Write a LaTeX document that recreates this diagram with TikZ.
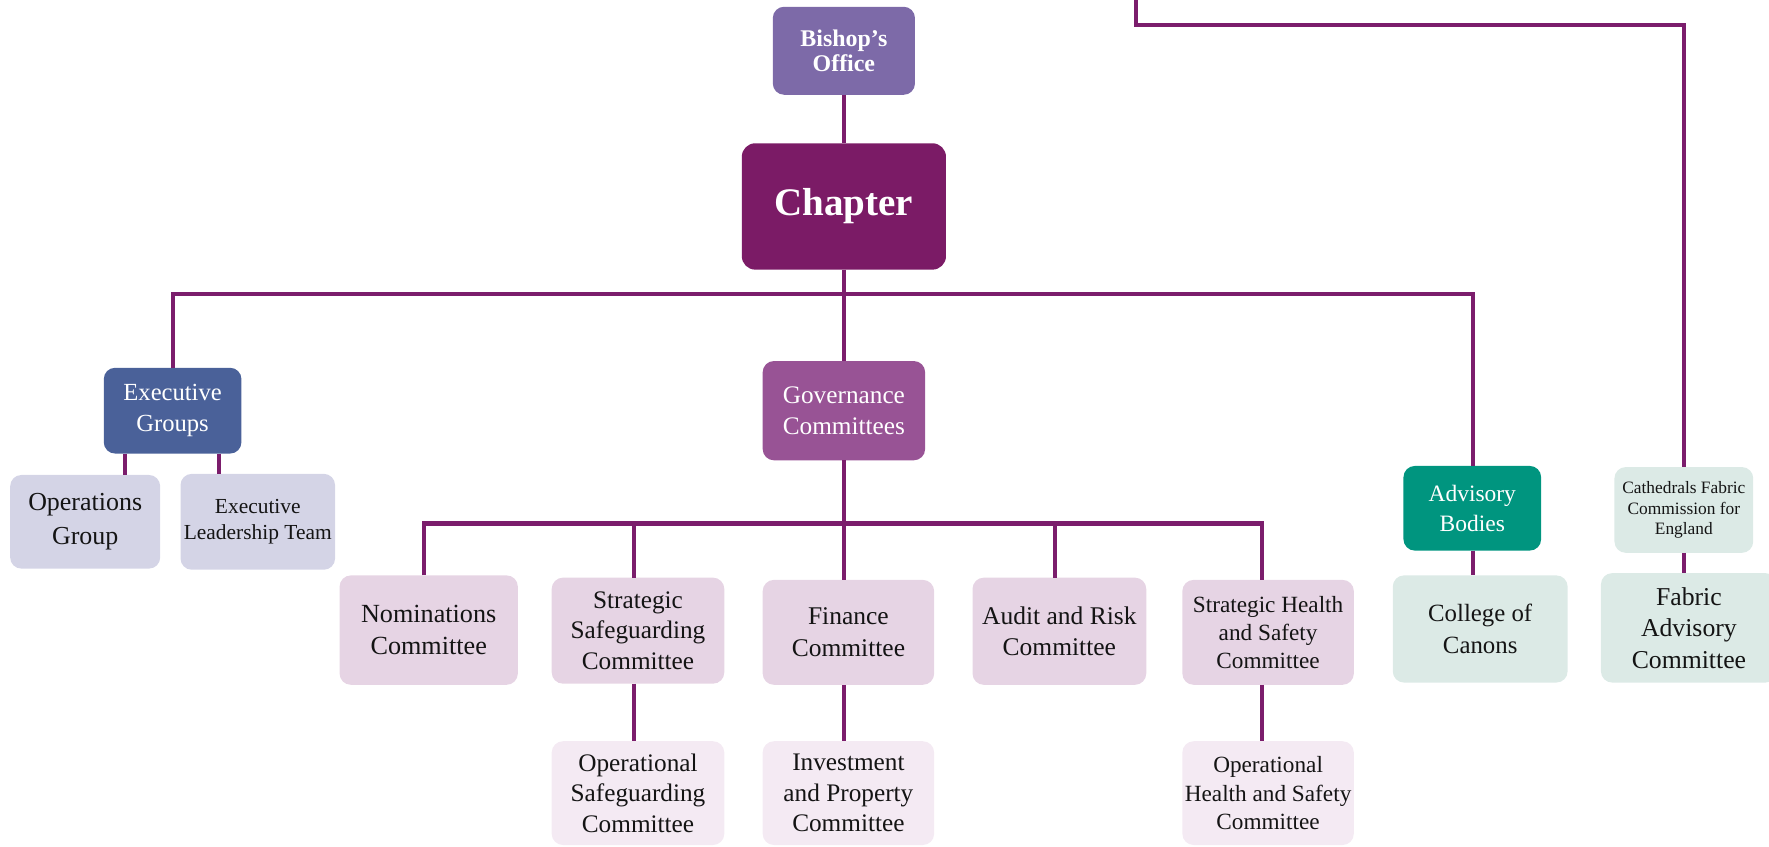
\documentclass[tikz,border=0pt]{standalone}
\usepackage{fontspec}
\setmainfont{Liberation Serif}
\definecolor{linecol}{RGB}{123,29,108}
\definecolor{bishopcol}{RGB}{125,106,168}
\definecolor{chaptercol}{RGB}{123,27,102}
\definecolor{execcol}{RGB}{74,97,153}
\definecolor{govcol}{RGB}{152,83,149}
\definecolor{advcol}{RGB}{0,149,127}
\definecolor{lavgrey}{RGB}{212,212,230}
\definecolor{commcol}{RGB}{230,212,228}
\definecolor{subcol}{RGB}{244,234,243}
\definecolor{mintcol}{RGB}{220,234,230}
\definecolor{txtcol}{RGB}{20,20,20}
\begin{document}
\begin{tikzpicture}[x=0.5pt,y=-0.5pt,
  box/.style={rectangle, rounded corners=5pt, align=center, inner sep=0pt, outer sep=0pt, text=txtcol},
  darkbox/.style={box, text=white},
  conn/.style={draw=linecol, line width=1.8pt},
  fnorm/.style={font=\fontsize{11.3}{14}\selectfont},
  fsmall/.style={font=\fontsize{10.3}{12.5}\selectfont},
  committee/.style={box, fill=commcol, fnorm, minimum width=76.5pt, minimum height=47pt},
  subcommittee/.style={box, fill=subcol, fnorm, minimum width=76.5pt, minimum height=46pt}
]
\useasboundingbox (0,0) rectangle (1568,750);

% top level
\node[darkbox, fill=bishopcol, minimum width=63pt, minimum height=39pt,
      font=\bfseries\fontsize{10.6}{11.4}\selectfont] (bishop) at (748,45) {Bishop’s\\Office};
\node[darkbox, fill=chaptercol, rounded corners=6pt, minimum width=90.5pt, minimum height=56pt,
      font=\bfseries\fontsize{17.3}{18}\selectfont] (chapter) at (748,183) {Chapter};

% executive
\node[darkbox, fill=execcol, minimum width=61pt, minimum height=38pt,
      font=\fontsize{10.9}{13.5}\selectfont] (exec) at (153,364) {Executive\\Groups};
\node[box, fill=lavgrey, minimum width=66.5pt, minimum height=41.5pt,
      font=\fontsize{11.5}{15}\selectfont] (ops) at (75.5,462.5) {Operations\\Group};
\node[box, fill=lavgrey, minimum width=68.5pt, minimum height=42.5pt,
      font=\fontsize{9.5}{11.8}\selectfont] (elt) at (228.5,462.5) {Executive\\Leadership Team};

% governance
\node[darkbox, fill=govcol, minimum width=72pt, minimum height=44pt,
      font=\fontsize{11.2}{14}\selectfont] (gov) at (748,364) {Governance\\Committees};

\node[committee, font=\fontsize{11.6}{14.3}\selectfont, minimum width=79pt, minimum height=48.5pt] (nom) at (380,558.5) {Nominations\\Committee};
\node[committee, font=\fontsize{11.2}{13.5}\selectfont] (stratsafe) at (565.5,559) {Strategic\\Safeguarding\\Committee};
\node[committee, minimum width=76pt, minimum height=46.5pt] (finance) at (752,560.5) {Finance\\Committee};
\node[committee, minimum width=77pt, minimum height=47.5pt] (audit) at (939,559.5) {Audit and Risk\\Committee};
\node[committee, fsmall, minimum width=76pt, minimum height=46.5pt] (shs) at (1124,560.5) {Strategic Health\\and Safety\\Committee};

\node[subcommittee, font=\fontsize{11.2}{13.5}\selectfont] (opsafe) at (565.5,703) {Operational\\Safeguarding\\Committee};
\node[subcommittee, font=\fontsize{11.2}{13.5}\selectfont, minimum width=76pt] (invest) at (752,703) {Investment\\and Property\\Committee};
\node[subcommittee, fsmall, minimum width=76pt] (ohs) at (1124,703) {Operational\\Health and Safety\\Committee};

% advisory
\node[darkbox, fill=advcol, minimum width=61pt, minimum height=37.5pt,
      font=\fontsize{10.4}{13.5}\selectfont] (adv) at (1305,450.5) {Advisory\\Bodies};
\node[box, fill=mintcol, font=\fontsize{11}{14}\selectfont, minimum width=77.5pt, minimum height=47.5pt] (college) at (1312,557.5) {College of\\Canons};
\node[box, fill=mintcol, minimum width=61.5pt, minimum height=38pt,
      font=\fontsize{7.7}{9}\selectfont] (cfce) at (1492.5,452) {Cathedrals Fabric\\Commission for\\England};
\node[box, fill=mintcol, font=\fontsize{11.4}{14}\selectfont, minimum width=78pt, minimum height=48.5pt] (fabric) at (1497,556.5) {Fabric\\Advisory\\Committee};

% bus and drop coordinates
\coordinate (busA) at (153,261);
\coordinate (busB) at (1306,261);
\coordinate (busC) at (376,464);
\coordinate (busD) at (1119,464);
\coordinate (dropS) at (562,464);
\coordinate (dropF) at (748,464);
\coordinate (dropA) at (935,464);
\coordinate (dropO) at (111,402);
\coordinate (dropL) at (194,402);
\coordinate (topA) at (1007,-10);
\coordinate (topB) at (1007,22);
\coordinate (topC) at (1493,22);

% connectors
\draw[conn] (bishop.south) -- (chapter.north);
\draw[conn] (chapter.south) -- (gov.north);
\draw[conn] (exec.north) -- (busA) -- (busB) -- (adv.north -| busB);
\draw[conn] (dropO |- exec.south) -- (dropO |- ops.north);
\draw[conn] (dropL |- exec.south) -- (dropL |- elt.north);
\draw[conn] (gov.south) -- (dropF);
\draw[conn] (nom.north -| busC) -- (busC) -- (busD) -- (shs.north -| busD);
\draw[conn] (dropS) -- (dropS |- stratsafe.north);
\draw[conn] (dropS |- stratsafe.south) -- (dropS |- opsafe.north);
\draw[conn] (dropF) -- (dropF |- finance.north);
\draw[conn] (dropF |- finance.south) -- (dropF |- invest.north);
\draw[conn] (dropA) -- (dropA |- audit.north);
\draw[conn] (shs.south -| busD) -- (ohs.north -| busD);
\draw[conn] (adv.south -| busB) -- (college.north -| busB);
\draw[conn] (topA) -- (topB) -- (topC) -- (cfce.north -| topC);
\draw[conn] (cfce.south -| topC) -- (fabric.north -| topC);
\end{tikzpicture}
\end{document}
